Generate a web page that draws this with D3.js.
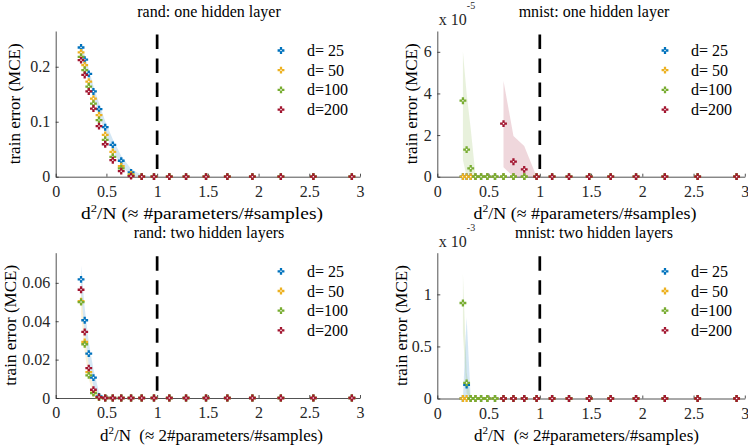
<!DOCTYPE html>
<head>
<meta charset="utf-8">
<title>train error vs d^2/N</title>
<script src="https://cdn.jsdelivr.net/npm/d3@7/dist/d3.min.js"></script>
<style>
    body { margin: 0; background: #fff; }
    text { font-family: "Liberation Serif", "Times New Roman", serif; white-space: pre; }
</style>
</head>
<body>
<script>
    // ---- data ----
    var xGrid = [0.25, 0.286, 0.326, 0.372, 0.427, 0.488, 0.563, 0.646, 0.743, 0.848,
                 0.969, 1.12, 1.285, 1.482, 1.692, 1.939, 2.22, 2.54, 2.92];
    var seriesNames = ["d= 25", "d= 50", "d=100", "d=200"];
    var xTicks = [0, 0.5, 1, 1.5, 2, 2.5, 3];

    // rand: one hidden layer
    var randOne25  = [0.235, 0.213, 0.187, 0.155, 0.123, 0.090, 0.058, 0.029, 0.008, 0, 0, 0, 0, 0, 0, 0, 0, 0, 0];
    var randOne50  = [0.226, 0.203, 0.173, 0.142, 0.112, 0.076, 0.045, 0.019, 0.004, 0, 0, 0, 0, 0, 0, 0, 0, 0, 0];
    var randOne100 = [0.218, 0.194, 0.164, 0.133, 0.103, 0.067, 0.036, 0.015, 0.002, 0, 0, 0, 0, 0, 0, 0, 0, 0, 0];
    var randOne200 = [0.212, 0.185, 0.155, 0.124, 0.092, 0.059, 0.030, 0.010, 0.001, 0, 0, 0, 0, 0, 0, 0, 0, 0, 0];
    var randOneUp25 = [0.241, 0.221, 0.196, 0.165, 0.134, 0.101, 0.068, 0.038, 0.014, 0.003, 0];
    var randOneLo25 = [0.229, 0.205, 0.178, 0.145, 0.112, 0.079, 0.048, 0.020, 0.002, 0, 0];
    var randOneYTicks = [0, 0.1, 0.2];

    // rand: two hidden layers
    var randTwo25  = [0.0618, 0.0405, 0.0231, 0.0106, 0.0008, 0, 0, 0, 0, 0, 0, 0, 0, 0, 0, 0, 0, 0, 0];
    var randTwo50  = [0.0505, 0.0292, 0.0135, 0.0028, 0.0003, 0, 0, 0, 0, 0, 0, 0, 0, 0, 0, 0, 0, 0, 0];
    var randTwo100 = [0.0500, 0.0280, 0.0118, 0.0025, 0.0002, 0, 0, 0, 0, 0, 0, 0, 0, 0, 0, 0, 0, 0, 0];
    var randTwo200 = [0.0564, 0.0344, 0.0156, 0.0043, 0.0005, 0, 0, 0, 0, 0, 0, 0, 0, 0, 0, 0, 0, 0, 0];
    var randTwoUp25 = [0.069, 0.047, 0.029, 0.015, 0.003, 0];
    var randTwoLo25 = [0.055, 0.034, 0.017, 0.006, 0, 0];
    var randTwoUp50 = [0.057, 0.034, 0.017, 0.005, 0.001, 0];
    var randTwoLo50 = [0.044, 0.024, 0.010, 0.001, 0, 0];
    var randTwoYTicks = [0, 0.02, 0.04, 0.06];

    // mnist: one hidden layer (x 10^-5)
    var mnistOne25  = [0, 0, 0, 0, 0, 0, 0, 0, 0, 0, 0, 0, 0, 0, 0, 0, 0, 0, 0];
    var mnistOne50  = [0, 0, 0, 0, 0, 0, 0, 0, 0, 0, 0, 0, 0, 0, 0, 0, 0, 0, 0];
    var mnistOne100 = [3.65, 1.3, 0.4, 0, 0, 0, 0, 0, 0, 0, 0, 0, 0, 0, 0, 0, 0, 0, 0];
    var mnistOne200 = [null, null, null, null, null, null, null, 2.55, 0.72, 0.35, 0, 0, 0, 0, 0, 0, 0, 0, 0];
    var mnistOneUp100 = [6.0, 4.0, 2.3, 0.1];
    var mnistOneLo100 = [0.8, 0, 0, 0];
    var mnistOneUp200 = [null, null, null, null, null, null, null, 4.6, 1.95, 1.47, 0];
    var mnistOneLo200 = [null, null, null, null, null, null, null, 0.45, 0, 0, 0];
    var mnistOneYTicks = [0, 2, 4, 6];

    // mnist: two hidden layers (x 10^-3)
    var mnistTwo25  = [0, 0.13, 0, 0, 0, 0, 0, 0, 0, 0, 0, 0, 0, 0, 0, 0, 0, 0, 0];
    var mnistTwo50  = [0, 0, 0, 0, 0, 0, 0, 0, 0, 0, 0, 0, 0, 0, 0, 0, 0, 0, 0];
    var mnistTwo100 = [0.917, 0.15, 0, 0, 0, 0, 0, 0, 0, 0, 0, 0, 0, 0, 0, 0, 0, 0, 0];
    var mnistTwo200 = [null, null, null, null, null, null, null, 0, 0, 0, 0, 0, 0, 0, 0, 0, 0, 0, 0];
    var mnistTwoUp25  = [0, 0.78, 0];
    var mnistTwoLo25  = [0, 0, 0];
    var mnistTwoUp100 = [1.2, 0.25, 0];
    var mnistTwoLo100 = [0.63, 0.05, 0];
    var mnistTwoYTicks = [0, 0.5, 1];

    // ---- styling ----
    var colors = ["#0072BD", "#EDB120", "#77AC30", "#A2142F"];
    var axisColor = "#262626";

    var svg = d3.select("body").append("svg")
        .attr("width", 748)
        .attr("height", 445);

    var panels = [
        { title: "rand: one hidden layer", series: [randOne25, randOne50, randOne100, randOne200],
          bands: [[0, randOneUp25, randOneLo25]],
          yMax: 0.265, yTicks: randOneYTicks,
          xr: [55.7, 360], yr: [176.7, 31],
          titleX: 209, titleY: 17.3,
          xlab: ["d", "2", "/N (\u2248 #parameters/#samples)"], xlabX: 202, xlabY: 219, xlabW: 242,
          ylabX: 20, legX: 281, legY: 50.5 },
        { title: "mnist: one hidden layer", series: [mnistOne25, mnistOne50, mnistOne100, mnistOne200],
          bands: [[2, mnistOneUp100, mnistOneLo100], [3, mnistOneUp200, mnistOneLo200]],
          yMax: 7, yTicks: mnistOneYTicks, exp: "-5",
          xr: [437.3, 744.8], yr: [176.7, 31],
          titleX: 594, titleY: 17,
          xlab: ["d", "2", "/N (\u2248 #parameters/#samples)"], xlabX: 585, xlabY: 219, xlabW: 223,
          ylabX: 417, legX: 665, legY: 50.5 },
        { title: "rand: two hidden layers", series: [randTwo25, randTwo50, randTwo100, randTwo200],
          bands: [[0, randTwoUp25, randTwoLo25], [1, randTwoUp50, randTwoLo50]],
          yMax: 0.0757, yTicks: randTwoYTicks,
          xr: [55.7, 360], yr: [398, 252.7],
          titleX: 209, titleY: 238,
          xlab: ["d", "2", "/N  (\u2248 2#parameters/#samples)"], xlabX: 211.5, xlabY: 441, xlabW: 223,
          ylabX: 16, legX: 281, legY: 271.3 },
        { title: "mnist: two hidden layers", series: [mnistTwo25, mnistTwo50, mnistTwo100, mnistTwo200],
          bands: [[0, mnistTwoUp25, mnistTwoLo25], [2, mnistTwoUp100, mnistTwoLo100]],
          yMax: 1.4, yTicks: mnistTwoYTicks, exp: "-3",
          xr: [437.3, 744.8], yr: [398.5, 252.7],
          titleX: 594, titleY: 238,
          xlab: ["d", "2", "/N  (\u2248 2#parameters/#samples)"], xlabX: 586.5, xlabY: 441, xlabW: 225,
          ylabX: 407, legX: 665, legY: 271.3 }
    ];

    var marker = d3.symbol().type(d3.symbolCross).size(26)();

    function drawMarker(g, cx, cy, color) {
        g.append("path")
            .attr("d", marker)
            .attr("transform", "translate(" + cx + "," + cy + ")")
            .attr("fill", color);
        g.append("circle")
            .attr("cx", cx).attr("cy", cy).attr("r", 0.8)
            .attr("fill", "#fff");
    }

    panels.forEach(function(p) {
        var g = svg.append("g");
        var x = d3.scaleLinear().domain([0, 3]).range(p.xr);
        var y = d3.scaleLinear().domain([0, p.yMax]).range(p.yr);

        // std bands
        p.bands.forEach(function(b) {
            var pts = b[1].map(function(u, i) { return { x: xGrid[i], hi: u, lo: b[2][i] }; });
            var area = d3.area()
                .defined(function(d) { return d.hi != null; })
                .x(function(d) { return x(d.x); })
                .y0(function(d) { return y(d.lo); })
                .y1(function(d) { return y(d.hi); });
            g.append("path")
                .attr("d", area(pts))
                .attr("fill", colors[b[0]])
                .attr("fill-opacity", 0.17);
        });

        // axes, MATLAB style ticks inside
        var ax = g.append("g")
            .attr("transform", "translate(0," + p.yr[0] + ")")
            .call(d3.axisBottom(x).tickValues(xTicks).tickSizeInner(-3).tickSizeOuter(0)
                  .tickPadding(9).tickFormat(d3.format("~g")));
        var ay = g.append("g")
            .attr("transform", "translate(" + p.xr[0] + ",0)")
            .call(d3.axisLeft(y).tickValues(p.yTicks).tickSizeInner(-3).tickSizeOuter(0)
                  .tickPadding(5.5).tickFormat(d3.format("~g")));
        [ax, ay].forEach(function(a) {
            a.select(".domain").attr("stroke", axisColor).attr("stroke-width", 0.8);
            a.selectAll(".tick line").attr("stroke", axisColor).attr("stroke-width", 0.8);
            a.selectAll(".tick text")
                .attr("fill", axisColor)
                .style("font-family", "'Liberation Serif', serif")
                .style("font-size", "16px");
        });

        // dashed line at d^2/N = 1
        g.append("line")
            .attr("x1", x(1)).attr("x2", x(1))
            .attr("y1", p.yr[1] + 3.5).attr("y2", p.yr[0])
            .attr("stroke", "#000")
            .attr("stroke-width", 2.7)
            .attr("stroke-dasharray", "14.5,9.5");

        // markers, later series on top
        p.series.forEach(function(vals, k) {
            vals.forEach(function(v, i) {
                if (v == null) return;
                drawMarker(g, x(xGrid[i]), y(v), colors[k]);
            });
        });

        // legend
        seriesNames.forEach(function(name, k) {
            var cy = p.legY + k * 19.7;
            drawMarker(g, p.legX, cy, colors[k]);
            g.append("text")
                .attr("x", p.legX + 26)
                .attr("y", cy + 5.5)
                .style("font-size", "16px")
                .attr("fill", "#000")
                .text(name);
        });

        // title
        g.append("text")
            .attr("x", p.titleX).attr("y", p.titleY)
            .attr("text-anchor", "middle")
            .style("font-size", "16px")
            .text(p.title);

        // x label with superscript
        var xl = g.append("text")
            .attr("x", p.xlabX).attr("y", p.xlabY)
            .attr("text-anchor", "middle")
            .attr("textLength", p.xlabW)
            .attr("lengthAdjust", "spacingAndGlyphs")
            .style("font-size", "17px");
        xl.append("tspan").text(p.xlab[0]);
        xl.append("tspan").attr("dy", -7).style("font-size", "11px").text(p.xlab[1]);
        xl.append("tspan").attr("dy", 7).text(p.xlab[2]);

        // y label
        g.append("text")
            .attr("transform", "translate(" + p.ylabX + "," + ((p.yr[0] + p.yr[1]) / 2) + ") rotate(-90)")
            .attr("text-anchor", "middle")
            .style("font-size", "17px")
            .text("train error (MCE)");

        // exponent multiplier
        if (p.exp) {
            var m = g.append("text")
                .attr("x", p.xr[0] + 1.5)
                .attr("y", p.yr[1] - 6)
                .style("font-size", "16px")
                .attr("fill", axisColor);
            m.append("tspan").text("x 10");
            m.append("tspan").attr("dy", -16).style("font-size", "10px").text(p.exp);
        }
    });
</script>
</body>
</html>
